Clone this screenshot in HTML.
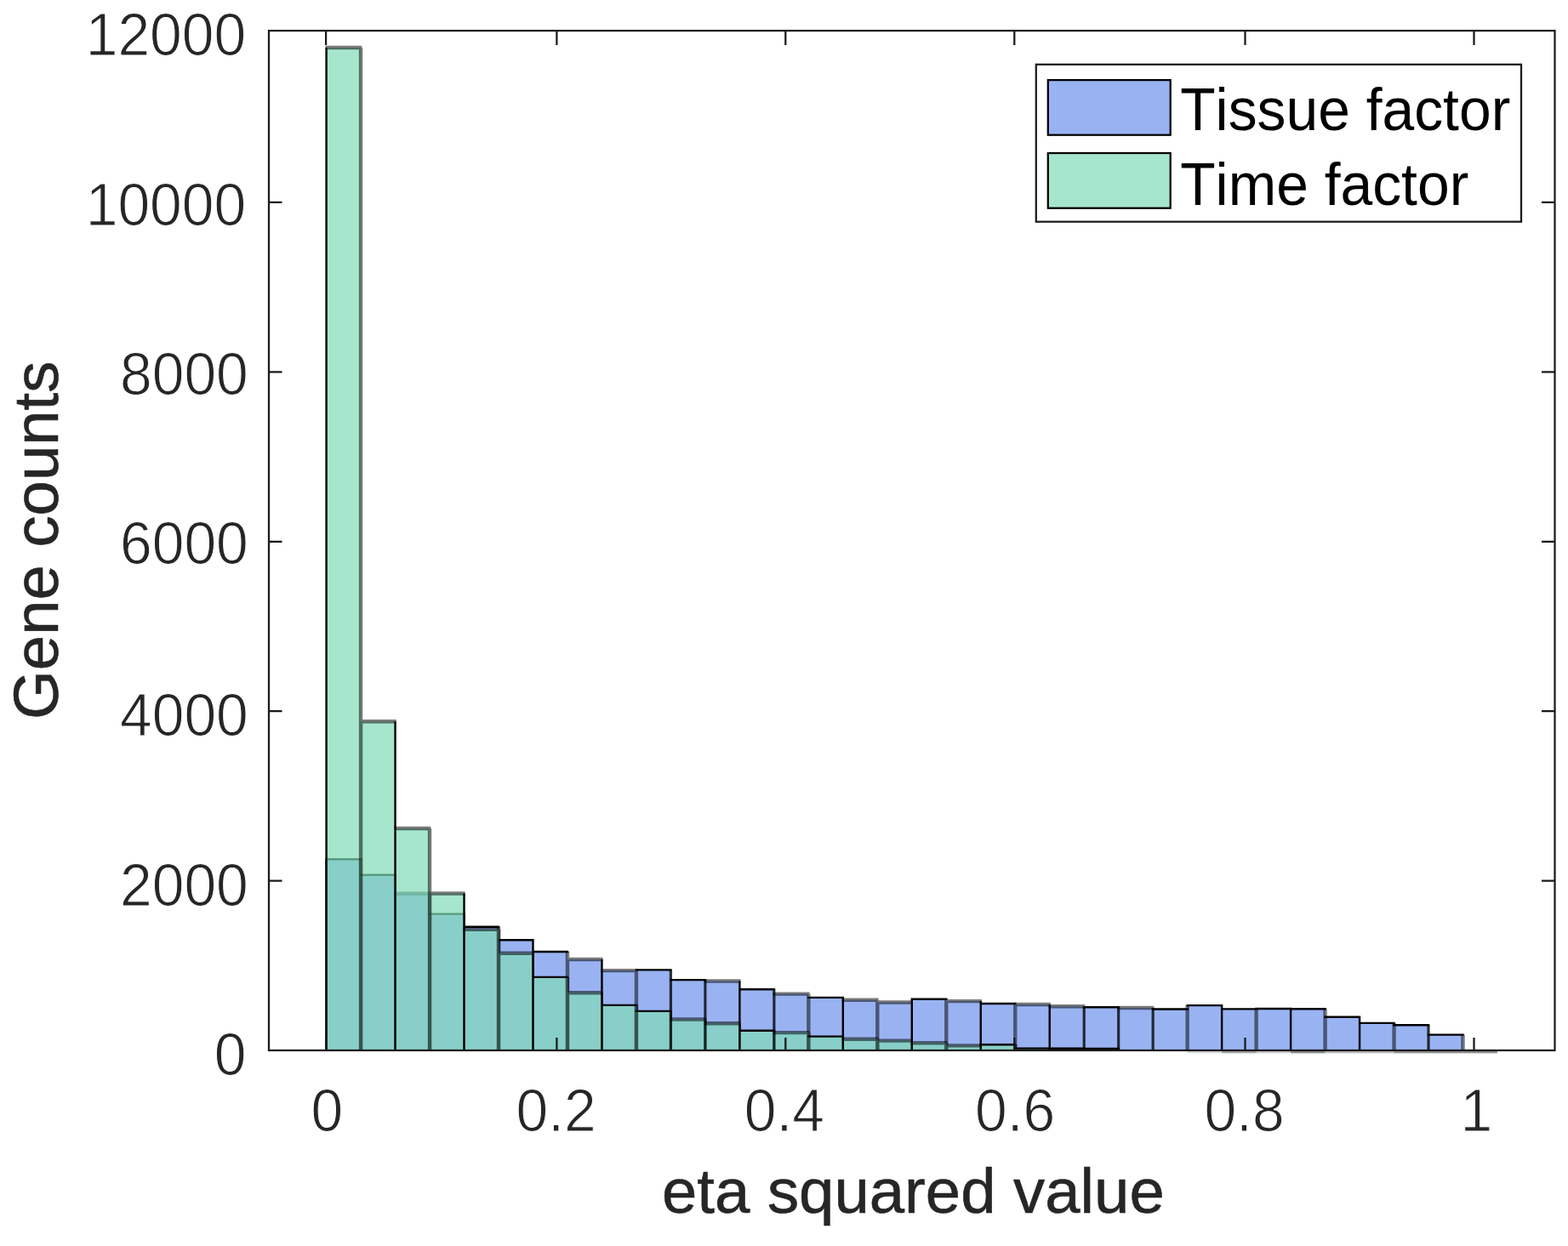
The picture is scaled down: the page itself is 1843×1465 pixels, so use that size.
<!DOCTYPE html>
<html lang="en"><head><meta charset="utf-8">
<title>Gene counts by eta squared value</title>
<style>
html,body{margin:0;padding:0;background:#fff;}
body{width:1843px;height:1465px;overflow:hidden;}
svg{display:block;}
text{font-family:"Liberation Sans",Arial,Helvetica,sans-serif;font-kerning:none;font-variant-ligatures:none;stroke:#fff;stroke-width:1px;stroke-linejoin:round;}
.tk{font-size:67.8px;fill:#262626;}
.lb{font-size:74.3px;fill:#262626;stroke:#262626;stroke-width:0.6px;}
.lg{font-size:67.8px;fill:#000;stroke:none;}
</style></head><body>
<svg width="1843" height="1465" viewBox="0 0 1843 1465">
<rect x="0" y="0" width="1843" height="1465" fill="#fff"/>
<g id="bars" fill="none" stroke="#000" stroke-linejoin="miter" stroke-linecap="butt">
<path d="M383.60 1235.00V1010.20H424.08V1028.80H464.56V1050.50H505.05V1074.60H545.53V1089.80H586.01V1105.20H626.49V1119.00H666.97V1128.00H707.45V1141.10H747.94V1140.40H788.42V1152.10H828.90V1153.50H869.38V1163.30H909.86V1168.60H950.35V1172.90H990.83V1175.80H1031.31V1178.50H1071.79V1174.80H1112.27V1177.10H1152.75V1180.00H1193.24V1181.00H1233.72V1183.30H1274.20V1184.30H1314.68V1185.00H1355.16V1186.50H1395.65V1182.10H1436.13V1186.40H1476.61V1186.00H1517.09V1186.30H1557.57V1195.80H1598.05V1202.90H1638.54V1205.30H1679.02V1216.60H1719.50V1235.00Z" fill="#5580e9" fill-opacity="0.6" stroke="none"/>
<path d="M463.36 1050.50H506.25M665.77 1128.00H708.65M706.25 1141.10H749.14M827.70 1153.50H870.58M908.66 1168.60H951.55M989.63 1175.80H1032.51M1030.11 1178.50H1072.99M1111.07 1177.10H1153.95M1192.04 1181.00H1234.92M1232.52 1183.30H1275.40M1313.48 1185.00H1356.36M424.08 1010.20V1235.00M505.05 1050.50V1235.00M586.01 1089.80V1235.00M666.97 1119.00V1235.00M747.94 1140.40V1235.00M950.35 1168.60V1235.00M1031.31 1175.80V1235.00M1112.27 1174.80V1235.00M1193.24 1180.00V1235.00M1395.65 1182.10V1235.00M1476.61 1186.00V1235.00M1557.57 1186.30V1235.00M1638.54 1202.90V1235.00M1719.50 1216.60V1235.00" stroke-width="4.4" stroke-opacity="0.52"/>
<path d="M788.42 1140.40V1235.00M828.90 1152.10V1235.00M909.86 1163.30V1235.00M1274.20 1183.30V1235.00M1314.68 1184.30V1235.00M1355.16 1185.00V1235.00M1679.02 1205.30V1235.00" stroke-width="3.2" stroke-opacity="0.78"/>
<path d="M382.40 1010.20H425.28M422.88 1028.80H465.76M503.85 1074.60H546.73M544.33 1089.80H587.21M584.81 1105.20H627.69M625.29 1119.00H668.17M746.74 1140.40H789.62M787.22 1152.10H830.10M868.18 1163.30H911.06M949.15 1172.90H992.03M1070.59 1174.80H1113.47M1151.55 1180.00H1194.44M1273.00 1184.30H1315.88M1353.96 1186.50H1396.85M1394.45 1182.10H1437.33M1434.93 1186.40H1477.81M1475.41 1186.00H1518.29M1515.89 1186.30H1558.77M1556.37 1195.80H1599.25M1596.85 1202.90H1639.74M1637.34 1205.30H1680.22M1677.82 1216.60H1720.70M383.60 1010.20V1235.00M464.56 1028.80V1235.00M545.53 1074.60V1235.00M626.49 1105.20V1235.00M707.45 1128.00V1235.00M869.38 1153.50V1235.00M990.83 1172.90V1235.00M1071.79 1174.80V1235.00M1152.75 1177.10V1235.00M1233.72 1181.00V1235.00M1436.13 1182.10V1235.00M1517.09 1186.00V1235.00M1598.05 1195.80V1235.00" stroke-width="2.4"/>
<path d="M383.60 1235.00V56.00H424.08V848.30H464.56V974.00H505.05V1050.50H545.53V1092.80H586.01V1120.80H626.49V1148.90H666.97V1167.30H707.45V1181.90H747.94V1188.90H788.42V1198.50H828.90V1203.30H869.38V1211.80H909.86V1214.10H950.35V1218.60H990.83V1221.70H1031.31V1223.60H1071.79V1226.30H1112.27V1229.40H1152.75V1228.20H1193.24V1232.60H1233.72V1232.80H1274.20V1233.00H1314.68V1235.00Z" fill="#80dbb8" fill-opacity="0.7" stroke="none"/>
<path d="M382.40 56.00H425.28M422.88 848.30H465.76M463.36 974.00H506.25M503.85 1050.50H546.73M544.33 1092.80H587.21M584.81 1120.80H627.69M665.77 1167.30H708.65M787.22 1198.50H830.10M827.70 1203.30H870.58M908.66 1214.10H951.55M989.63 1221.70H1032.51M1030.11 1223.60H1072.99M1070.59 1226.30H1113.47M1111.07 1229.40H1153.95M424.08 56.00V1235.00M505.05 974.00V1235.00M586.01 1092.80V1235.00M666.97 1148.90V1235.00M747.94 1181.90V1235.00M950.35 1214.10V1235.00M1031.31 1221.70V1235.00M1112.27 1226.30V1235.00M1193.24 1228.20V1235.00" stroke-width="4.4" stroke-opacity="0.52"/>
<path d="M788.42 1188.90V1235.00M828.90 1198.50V1235.00M909.86 1211.80V1235.00M1274.20 1232.80V1235.00M1314.68 1233.00V1235.00" stroke-width="3.2" stroke-opacity="0.78"/>
<path d="M625.29 1148.90H668.17M706.25 1181.90H749.14M746.74 1188.90H789.62M868.18 1211.80H911.06M949.15 1218.60H992.03M1151.55 1228.20H1194.44M1192.04 1232.60H1234.92M1232.52 1232.80H1275.40M1273.00 1233.00H1315.88M383.60 56.00V1235.00M464.56 848.30V1235.00M545.53 1050.50V1235.00M626.49 1120.80V1235.00M707.45 1167.30V1235.00M869.38 1203.30V1235.00M990.83 1218.60V1235.00M1071.79 1223.60V1235.00M1152.75 1228.20V1235.00M1233.72 1232.60V1235.00" stroke-width="2.4"/>
</g>
<g id="zero-bins" fill="#000">
<rect x="1395.65" y="1235.4" width="40.48" height="3.0" fill-opacity="0.14"/>
<rect x="1436.13" y="1235.4" width="40.48" height="3.0" fill-opacity="0.34"/>
<rect x="1476.61" y="1235.4" width="40.48" height="3.0" fill-opacity="0.20"/>
<rect x="1517.09" y="1235.4" width="40.48" height="3.0" fill-opacity="0.45"/>
<rect x="1557.57" y="1235.4" width="40.48" height="3.0" fill-opacity="0.26"/>
<rect x="1598.05" y="1235.4" width="40.48" height="3.0" fill-opacity="0.26"/>
<rect x="1638.54" y="1235.4" width="40.48" height="3.0" fill-opacity="0.42"/>
<rect x="1679.02" y="1235.4" width="40.48" height="3.0" fill-opacity="0.43"/>
<rect x="1719.50" y="1235.4" width="40.48" height="3.0" fill-opacity="0.43"/>
</g>
<g id="axes" stroke="#1a1a1a" stroke-width="2.25" fill="none" stroke-linecap="butt">
<rect x="316.0" y="36.1" width="1511.5" height="1198.9"/>
<path d="M383.1 1235.0V1220.1M383.1 36.1V53.0M654.4 1235.0V1220.1M654.4 36.1V53.0M923.3 1235.0V1220.1M923.3 36.1V53.0M1192.3 1235.0V1220.1M1192.3 36.1V53.0M1463.5 1235.0V1220.1M1463.5 36.1V53.0M1732.5 1235.0V1220.1M1732.5 36.1V53.0M316.0 1035.7H331.5M1827.5 1035.7H1812.0M316.0 836.2H331.5M1827.5 836.2H1812.0M316.0 636.9H331.5M1827.5 636.9H1812.0M316.0 437.3H331.5M1827.5 437.3H1812.0M316.0 237.9H331.5M1827.5 237.9H1812.0"/>
</g>
<g id="xticks" class="tk" text-anchor="middle">
<text transform="translate(384.3 1329.8) scale(1 1.05)">0</text>
<text transform="translate(653.7 1329.8) scale(1 1.05)">0.2</text>
<text transform="translate(921.8 1329.8) scale(1 1.05)">0.4</text>
<text transform="translate(1193.1 1329.8) scale(1 1.05)">0.6</text>
<text transform="translate(1462.5 1329.8) scale(1 1.05)">0.8</text>
<text transform="translate(1735.3 1329.8) scale(1 1.05)">1</text>
</g>
<g id="yticks" class="tk" text-anchor="end">
<text transform="translate(289.5 1264.05) scale(1 1.05)">0</text>
<text transform="translate(291.8 1064.65) scale(1 1.05)">2000</text>
<text transform="translate(291.8 865.25) scale(1 1.05)">4000</text>
<text transform="translate(291.8 663.45) scale(1 1.05)">6000</text>
<text transform="translate(291.8 464.05) scale(1 1.05)">8000</text>
<text transform="translate(289.2 264.65) scale(1 1.05)">10000</text>
<text transform="translate(289.2 65.25) scale(1 1.05)">12000</text>
</g>
<text class="lb" text-anchor="middle" x="1073.4" y="1426">eta squared value</text>
<text class="lb" text-anchor="middle" transform="translate(68.2 635.3) rotate(-90)">Gene counts</text>
<g id="legend">
<rect x="1217.8" y="75.8" width="570.2" height="184.9" fill="#fff" stroke="#1a1a1a" stroke-width="2.25"/>
<rect x="1231.8" y="94.1" width="143.9" height="64.6" fill="#5580e9" fill-opacity="0.6" stroke="#000" stroke-width="2.25"/>
<rect x="1231.8" y="180.0" width="143.9" height="64.7" fill="#80dbb8" fill-opacity="0.7" stroke="#000" stroke-width="2.25"/>
<text class="lg" transform="translate(1387.2 152.9) scale(1 1.03)">Tissue factor</text>
<text class="lg" transform="translate(1387.2 240.8) scale(1 1.03)">Time factor</text>
</g>
</svg>
</body></html>
